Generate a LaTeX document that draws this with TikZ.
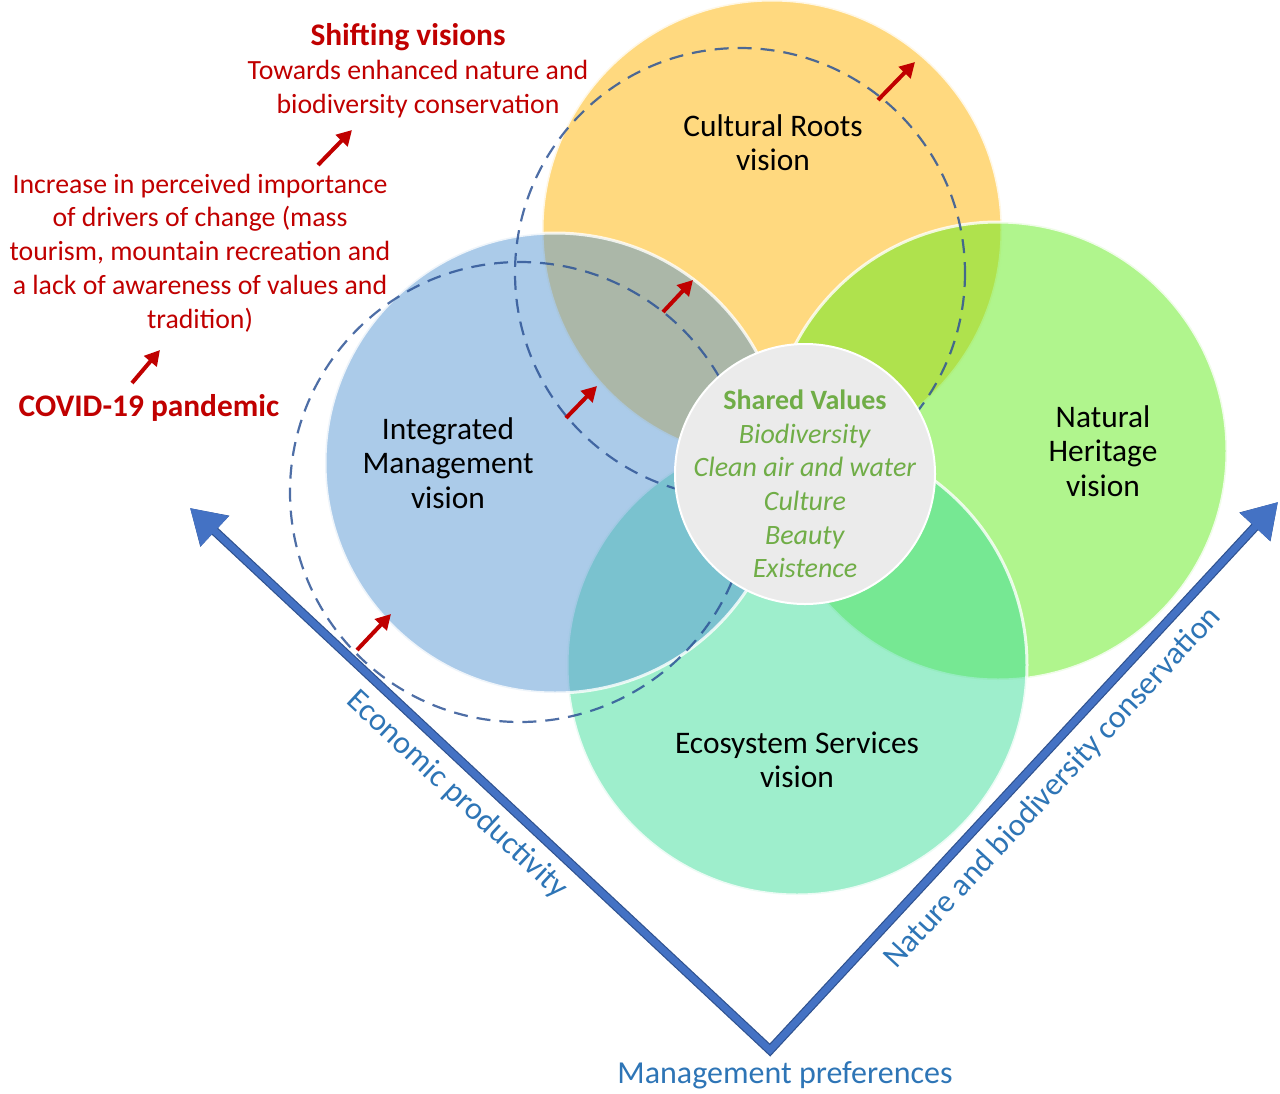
\documentclass[tikz,border=0pt]{standalone}
\usepackage{fontspec}
\setmainfont{Carlito}
\usetikzlibrary{arrows.meta}

\definecolor{rootsyellow}{RGB}{255,180,0}
\definecolor{heritagegreen}{RGB}{97,235,27}
\definecolor{integratedblue}{RGB}{87,151,211}
\definecolor{ecomint}{RGB}{61,221,153}
\definecolor{sharedgrey}{RGB}{235,235,235}
\definecolor{sharedtext}{RGB}{112,173,71}
\definecolor{shiftred}{RGB}{192,0,0}
\definecolor{dashblue}{RGB}{47,85,151}
\definecolor{axisblue}{RGB}{68,114,196}
\definecolor{axisdark}{RGB}{47,82,143}
\definecolor{axistext}{RGB}{46,117,182}

\begin{document}
\begin{tikzpicture}[x=0.5pt, y=-0.5pt,
    vision/.style={draw=white, line width=1.5pt, fill opacity=0.5, draw opacity=0.8},
    shifted/.style={dash pattern=on 7pt off 4.5pt, draw=dashblue, draw opacity=0.85, line width=1.1pt},
    shiftarrow/.style={-{Triangle[length=7.5pt,width=8pt]}, line width=2pt, draw=shiftred},
    visionlabel/.style={align=center, inner sep=0pt, font=\fontsize{15.7}{17.2}\selectfont},
    redlabel/.style={align=center, inner sep=0pt, text=shiftred, font=\fontsize{13.9}{16.9}\selectfont},
    redtitle/.style={inner sep=0pt, text=shiftred, font=\fontsize{15.7}{18}\selectfont\bfseries},
    axislabel/.style={inner sep=0pt, text=axistext, font=\fontsize{16}{19}\selectfont},
    axis/.style={{Triangle[length=17pt,width=20pt]}-{Triangle[length=17pt,width=20pt]},
        line width=3.4pt, draw=axisblue, preaction={draw=axisdark, line width=4.6pt}}]
\useasboundingbox (0,0) rectangle (1280,1093);

\coordinate (roots) at (772,230);
\coordinate (heritage) at (998,451);
\coordinate (integrated) at (555,463);
\coordinate (ecosystem) at (797,665);

\filldraw[vision, fill=rootsyellow] (roots) circle[radius=230];
\filldraw[vision, fill=heritagegreen] (heritage) circle[radius=229];
\filldraw[vision, fill=ecomint] (ecosystem) circle[radius=230];
\filldraw[vision, fill=integratedblue] (integrated) circle[radius=230];

\draw[shifted] (520,492) circle[radius=230];
\draw[shifted] (740,273) circle[radius=225];

\node[circle, fill=sharedgrey, draw=white, line width=1pt, minimum size=130pt, inner sep=0pt] (shared) at (805,474) {};
\node[align=center, inner sep=0pt, text=sharedtext, font=\fontsize{14}{16.8}\selectfont] (values) at (805,484)
    {\textbf{Shared Values}\\\textit{Biodiversity}\\\textit{Clean air and water}\\\textit{Culture}\\\textit{Beauty}\\\textit{Existence}};

\node[visionlabel] (rootslabel) at (773,143) {Cultural Roots\\vision};
\node[visionlabel] (heritagelabel) at (1103,451) {Natural\\Heritage\\vision};
\node[visionlabel] (integratedlabel) at (448,463) {Integrated\\Management\\vision};
\node[visionlabel] (ecosystemlabel) at (797,760) {Ecosystem Services\\vision};

\node[redtitle] (shifting) at (408,37) {Shifting visions};
\node[redlabel] (towards) at (418,89) {Towards enhanced nature and\\biodiversity conservation};
\node[redlabel] (drivers) at (200,253) {Increase in perceived importance\\of drivers of change (mass\\tourism, mountain recreation and\\a lack of awareness of values and\\tradition)};
\node[redtitle] (covid) at (149,408) {COVID-19 pandemic};

\foreach \sx/\sy/\ex/\ey in {318/165/352/130, 132/383/160/350, 566/418/597/386,
    663/312/693/280, 878/100/915/62, 357/650/391/614}
    \draw[shiftarrow] (\sx,\sy) -- (\ex,\ey);

\coordinate (econ) at (190,508);
\coordinate (base) at (770,1050);
\coordinate (nature) at (1278,502);
\draw[axis] (econ) -- (base) -- (nature);

\node[axislabel, rotate=-43] (econlabel) at (457,795) {Economic productivity};
\node[axislabel, rotate=47.2] (naturelabel) at (1053,788) {Nature and biodiversity conservation};
\node[axislabel] (prefs) at (785,1075) {Management preferences};
\end{tikzpicture}
\end{document}
